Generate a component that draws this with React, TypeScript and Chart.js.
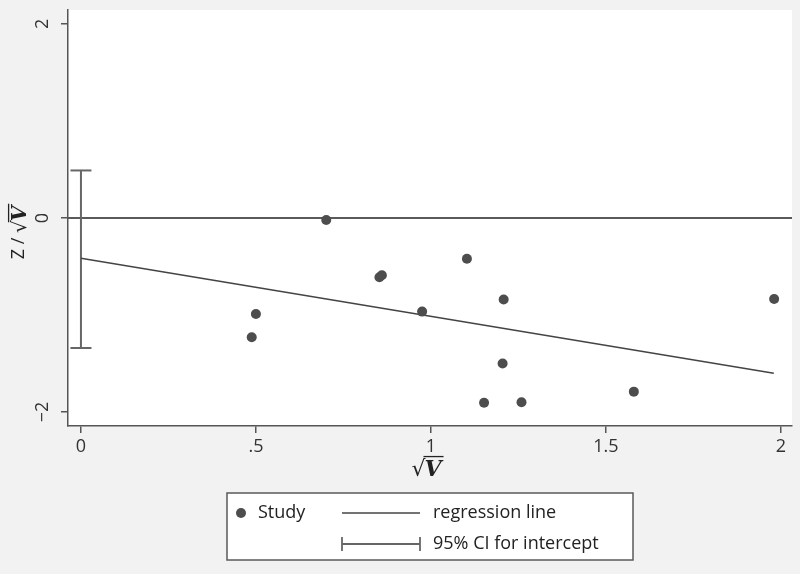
import React, { useEffect, useRef } from "react";
import { Chart, registerables } from "chart.js";

Chart.register(...registerables);

const studyX = [0.488, 0.5, 0.701, 0.853, 0.86, 0.975, 1.103, 1.208, 1.205, 1.152, 1.259, 1.58, 1.981];
const studyY = [-1.23, -0.99, -0.02, -0.61, -0.59, -0.965, -0.42, -0.84, -1.5, -1.905, -1.9, -1.79, -0.835];
const regX = [0, 1.98];
const regY = [-0.416, -1.6];
const ciX = 0;
const ciBounds = [-1.34, 0.49];
const xTicks = [0, 0.5, 1, 1.5, 2];
const xTickLabels = ["0", ".5", "1", "1.5", "2"];
const yTicks = [-2, 0, 2];
const yTickLabels = ["\u22122", "0", "2"];
const legendLabels = ["Study", "regression line", "95% CI for intercept"];

const FONT = "'Open Sans', 'Liberation Sans', sans-serif";
const AXIS = "#555555";
const DOT = "#4d4d4d";

function sqrtVWidth(ctx: CanvasRenderingContext2D, size: number) {
  ctx.font = `${size}px 'DejaVu Sans', sans-serif`;
  const w1 = ctx.measureText("\u221A").width;
  ctx.font = `italic bold ${size}px 'DejaVu Serif', 'Liberation Serif', serif`;
  const w2 = ctx.measureText("V").width;
  return w1 + w2;
}

function drawSqrtV(ctx: CanvasRenderingContext2D, x: number, y: number, size: number) {
  ctx.textBaseline = "alphabetic";
  ctx.textAlign = "left";
  ctx.font = `${size}px 'DejaVu Sans', sans-serif`;
  const w1 = ctx.measureText("\u221A").width;
  ctx.fillText("\u221A", x, y + size * 0.36);
  ctx.font = `italic bold ${size}px 'DejaVu Serif', 'Liberation Serif', serif`;
  const w2 = ctx.measureText("V").width;
  ctx.fillText("V", x + w1 - 1, y + size * 0.36);
  ctx.beginPath();
  ctx.lineWidth = 1.3;
  ctx.moveTo(x + w1 - 2, y - size * 0.52);
  ctx.lineTo(x + w1 + w2 + 1, y - size * 0.52);
  ctx.stroke();
}

const customPlugin = {
  id: "stataLook",
  beforeDraw(chart: any) {
    const { ctx, chartArea } = chart;
    ctx.save();
    ctx.fillStyle = "#f2f2f2";
    ctx.fillRect(0, 0, chart.width, chart.height);
    ctx.fillStyle = "#ffffff";
    ctx.fillRect(chartArea.left, chartArea.top, chartArea.right - chartArea.left, chartArea.bottom - chartArea.top);
    ctx.restore();
  },
  beforeDatasetsDraw(chart: any) {
    const { ctx, chartArea, scales } = chart;
    const y0 = scales.y.getPixelForValue(0);
    ctx.save();
    ctx.strokeStyle = "#5a5a5a";
    ctx.lineWidth = 2;
    ctx.beginPath();
    ctx.moveTo(chartArea.left, y0);
    ctx.lineTo(chartArea.right, y0);
    ctx.stroke();
    const cx = scales.x.getPixelForValue(ciX);
    ctx.strokeStyle = "#666666";
    ctx.lineWidth = 2;
    for (const v of ciBounds) {
      const py = scales.y.getPixelForValue(v);
      ctx.beginPath();
      ctx.moveTo(cx - 10.5, py);
      ctx.lineTo(cx + 10.5, py);
      ctx.stroke();
    }
    ctx.restore();
  },
  afterDraw(chart: any) {
    const { ctx, scales } = chart;
    ctx.save();
    ctx.fillStyle = "#333333";
    ctx.font = `18px ${FONT}`;
    ctx.textAlign = "center";
    ctx.textBaseline = "middle";
    yTicks.forEach((v, i) => {
      const py = scales.y.getPixelForValue(v);
      ctx.save();
      ctx.translate(43, py);
      ctx.rotate(-Math.PI / 2);
      ctx.fillText(yTickLabels[i], 0, 0);
      ctx.restore();
    });

    ctx.fillStyle = "#222222";
    ctx.strokeStyle = "#222222";
    const s = 22;
    const wx = sqrtVWidth(ctx, s);
    drawSqrtV(ctx, 427 - wx / 2, 468, s);

    ctx.save();
    ctx.translate(19, 232);
    ctx.rotate(-Math.PI / 2);
    ctx.font = `18px ${FONT}`;
    const pre = "Z / ";
    const wp = ctx.measureText(pre).width;
    const ws = sqrtVWidth(ctx, 20);
    const start = -(wp + ws) / 2;
    ctx.font = `18px ${FONT}`;
    ctx.textAlign = "left";
    ctx.textBaseline = "middle";
    ctx.fillText(pre, start, 0);
    drawSqrtV(ctx, start + wp, 0, 20);
    ctx.restore();

    ctx.fillStyle = "#ffffff";
    ctx.fillRect(227, 493, 406, 67);
    ctx.strokeStyle = "#5a5a5a";
    ctx.lineWidth = 1.5;
    ctx.strokeRect(227, 493, 406, 67);

    ctx.fillStyle = DOT;
    ctx.beginPath();
    ctx.arc(241, 513, 5, 0, Math.PI * 2);
    ctx.fill();

    ctx.strokeStyle = "#444444";
    ctx.lineWidth = 1.5;
    ctx.beginPath();
    ctx.moveTo(342, 513);
    ctx.lineTo(420, 513);
    ctx.stroke();

    ctx.strokeStyle = "#666666";
    ctx.lineWidth = 1.8;
    ctx.beginPath();
    ctx.moveTo(342, 544);
    ctx.lineTo(420, 544);
    ctx.moveTo(342, 537);
    ctx.lineTo(342, 551);
    ctx.moveTo(420, 537);
    ctx.lineTo(420, 551);
    ctx.stroke();

    ctx.fillStyle = "#222222";
    ctx.font = `18px ${FONT}`;
    ctx.textAlign = "left";
    ctx.textBaseline = "middle";
    ctx.fillText(legendLabels[0], 258, 513);
    ctx.fillText(legendLabels[1], 433, 513);
    ctx.fillText(legendLabels[2], 433, 544);
    ctx.restore();
  },
};

export default function App() {
  const ref = useRef<HTMLCanvasElement | null>(null);
  useEffect(() => {
    if (!ref.current) return;
    const chart = new Chart(ref.current, {
      type: "scatter",
      data: {
        datasets: [
          {
            label: legendLabels[0],
            data: studyX.map((x, i) => ({ x, y: studyY[i] })),
            backgroundColor: DOT,
            borderColor: DOT,
            borderWidth: 0,
            pointRadius: 5,
            showLine: false,
            order: 0,
          },
          {
            type: "line",
            label: legendLabels[1],
            data: regX.map((x, i) => ({ x, y: regY[i] })),
            borderColor: "#444444",
            borderWidth: 1.5,
            pointRadius: 0,
            fill: false,
            order: 1,
          } as any,
          {
            type: "line",
            label: legendLabels[2],
            data: ciBounds.map((y) => ({ x: ciX, y })),
            borderColor: "#666666",
            borderWidth: 2,
            pointRadius: 0,
            fill: false,
            order: 2,
          } as any,
        ],
      },
      options: {
        responsive: false,
        animation: false,
        devicePixelRatio: 1,
        events: [],
        layout: { padding: { left: 0, right: 8, top: 10, bottom: 0 } },
        plugins: { legend: { display: false }, tooltip: { enabled: false } },
        scales: {
          x: {
            type: "linear",
            min: -0.037,
            max: 2.032,
            afterBuildTicks: (s: any) => {
              s.ticks = xTicks.map((v) => ({ value: v }));
            },
            afterFit: (s: any) => {
              s.height = 148;
            },
            grid: { drawOnChartArea: false, drawTicks: true, tickLength: 7, color: AXIS, lineWidth: 1.5 },
            border: { color: AXIS, width: 1.5 },
            ticks: {
              color: "#333333",
              font: { family: FONT, size: 18 },
              padding: 3,
              maxRotation: 0,
              autoSkip: false,
              callback: (v: any) => {
                const i = xTicks.indexOf(Number(v));
                return i >= 0 ? xTickLabels[i] : "";
              },
            },
          },
          y: {
            type: "linear",
            min: -2.144,
            max: 2.144,
            afterBuildTicks: (s: any) => {
              s.ticks = yTicks.map((v) => ({ value: v }));
            },
            afterFit: (s: any) => {
              s.width = 68;
            },
            grid: { drawOnChartArea: false, drawTicks: true, tickLength: 7, color: AXIS, lineWidth: 1.5 },
            border: { color: AXIS, width: 1.5 },
            ticks: { display: false },
          },
        },
      },
      plugins: [customPlugin],
    } as any);
    return () => chart.destroy();
  }, []);
  return (
    <div style={{ position: "fixed", left: 0, top: 0, width: 800, height: 574, background: "#f2f2f2" }}>
      <canvas ref={ref} width={800} height={574} style={{ display: "block" }} />
    </div>
  );
}
